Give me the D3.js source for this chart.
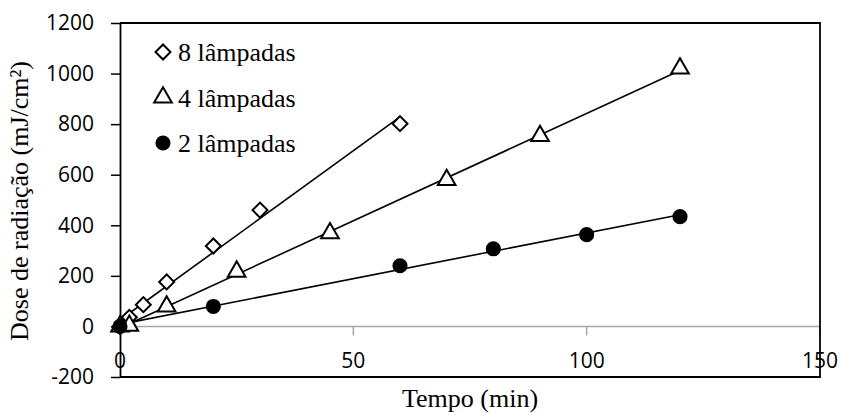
<!DOCTYPE html>
<html>
<head>
<meta charset="utf-8">
<script src="https://cdn.jsdelivr.net/npm/d3@7"></script>
<style>
  body { margin: 0; background: #fff; }
  svg { display: block; }
</style>
</head>
<body>
<div id="chart"></div>
<script>
// data
var names = ['8 lâmpadas', '4 lâmpadas', '2 lâmpadas']

var t8 = [0, 2, 5, 10, 20, 30, 60]
var d8 = [0, 36, 86, 176, 318, 460, 802]

var t4 = [0, 2, 10, 25, 45, 70, 90, 120]
var d4 = [0, 3, 79, 217, 369, 579, 753, 1020]

var t2 = [0, 20, 60, 80, 100, 120]
var d2 = [0, 79, 240, 307, 363, 434]

var xticks = [0, 50, 100, 150]
var yticks = [-200, 0, 200, 400, 600, 800, 1000, 1200]

// svg dimensions
var w = 841,
    h = 415,
    pl = 120,
    pr = 820,
    pt = 23,
    pb = 377

var svg = d3.select('#chart')
    .append('svg')
    .attr('width', w)
    .attr('height', h)

// scale
var xscale = d3.scaleLinear()
    .domain([0, 150])
    .range([pl, pr])

var yscale = d3.scaleLinear()
    .domain([-200, 1200])
    .range([pb, pt])

var series = [
    { name: names[0], t: t8, d: d8, shape: 'diamond' },
    { name: names[1], t: t4, d: d4, shape: 'triangle' },
    { name: names[2], t: t2, d: d2, shape: 'circle' },
]

function marker(shape) {
    if (shape == 'diamond') return d3.symbol().type(d3.symbolSquare).size(112)()
    if (shape == 'triangle') return d3.symbol().type(d3.symbolTriangle).size(135)()
    return d3.symbol().type(d3.symbolCircle).size(180)()
}

// least squares trendline
function fit(t, d) {
    var mt = d3.mean(t), md = d3.mean(d)
    var num = d3.sum(t, (v, i) => (v - mt) * (d[i] - md))
    var den = d3.sum(t, v => (v - mt) * (v - mt))
    var b = num / den
    return { b: b, a: md - b * mt }
}

// zero line with x ticks
svg.append('line')
    .attr('x1', pl).attr('x2', pr)
    .attr('y1', yscale(0)).attr('y2', yscale(0))
    .attr('stroke', '#a6a6a6')
    .attr('stroke-width', 1.5)

svg.selectAll('.xtick')
    .data(xticks)
    .enter()
    .append('line')
    .attr('x1', d => xscale(d)).attr('x2', d => xscale(d))
    .attr('y1', yscale(0)).attr('y2', yscale(0) + 9)
    .attr('stroke', '#a6a6a6')
    .attr('stroke-width', 1.5)

svg.selectAll('.xlabel')
    .data(xticks)
    .enter()
    .append('text')
    .text(d => d)
    .attr('x', d => xscale(d))
    .attr('y', 368)
    .attr('text-anchor', 'middle')
    .style('font-family', '"Open Sans", sans-serif')
    .style('font-size', '21px')

// y axis
var yaxis = d3.axisLeft(yscale)
    .tickValues(yticks)
    .tickFormat(d => d)
    .tickSize(9)
    .tickPadding(17)
    .tickSizeOuter(0)

var gy = svg.append('g')
    .attr('transform', `translate(${pl},0)`)
    .call(yaxis)

gy.select('.domain').attr('stroke-width', 1.8)
gy.selectAll('.tick line').attr('stroke-width', 1.5)
gy.selectAll('.tick text')
    .style('font-family', '"Open Sans", sans-serif')
    .style('font-size', '21px')
    .attr('fill', '#000')

// frame
svg.append('path')
    .attr('d', `M${pl},${pt}H${pr}V${pb}H${pl}`)
    .attr('fill', 'none')
    .attr('stroke', '#000')
    .attr('stroke-width', 1.8)

// trendlines
series.forEach(s => {
    var f = fit(s.t, s.d)
    var x0 = d3.min(s.t), x1 = d3.max(s.t)
    svg.append('line')
        .attr('x1', xscale(x0)).attr('y1', yscale(f.a + f.b * x0))
        .attr('x2', xscale(x1)).attr('y2', yscale(f.a + f.b * x1))
        .attr('stroke', '#000')
        .attr('stroke-width', 1.6)
})

// points
series.forEach(s => {
    svg.selectAll(null)
        .data(s.t)
        .enter()
        .append('path')
        .attr('d', marker(s.shape))
        .attr('transform', (d, i) => `translate(${xscale(d)},${yscale(s.d[i])})` + (s.shape == 'diamond' ? ' rotate(45)' : ''))
        .attr('fill', s.shape == 'circle' ? '#000' : '#fff')
        .attr('stroke', '#000')
        .attr('stroke-width', s.shape == 'circle' ? 0 : 2)
})

// legend
var lg = svg.selectAll('.legend')
    .data(series)
    .enter()
    .append('g')
    .attr('transform', (d, i) => `translate(163,${52 + i * 45.5})`)

lg.append('path')
    .attr('d', d => marker(d.shape))
    .attr('transform', d => d.shape == 'diamond' ? 'rotate(45)' : '')
    .attr('fill', d => d.shape == 'circle' ? '#000' : '#fff')
    .attr('stroke', '#000')
    .attr('stroke-width', d => d.shape == 'circle' ? 0 : 2)

lg.append('text')
    .text(d => d.name)
    .attr('x', 15)
    .attr('y', 9)
    .style('font-family', '"Liberation Serif", "Times New Roman", serif')
    .style('font-size', '26px')

// axis titles
svg.append('text')
    .text('Tempo (min)')
    .attr('x', 470)
    .attr('y', 407)
    .attr('text-anchor', 'middle')
    .style('font-family', '"Liberation Serif", "Times New Roman", serif')
    .style('font-size', '26px')

svg.append('text')
    .text('Dose de radiação (mJ/cm²)')
    .attr('transform', 'translate(28,201) rotate(-90)')
    .attr('text-anchor', 'middle')
    .style('font-family', '"Liberation Serif", "Times New Roman", serif')
    .style('font-size', '26px')
</script>
</body>
</html>
